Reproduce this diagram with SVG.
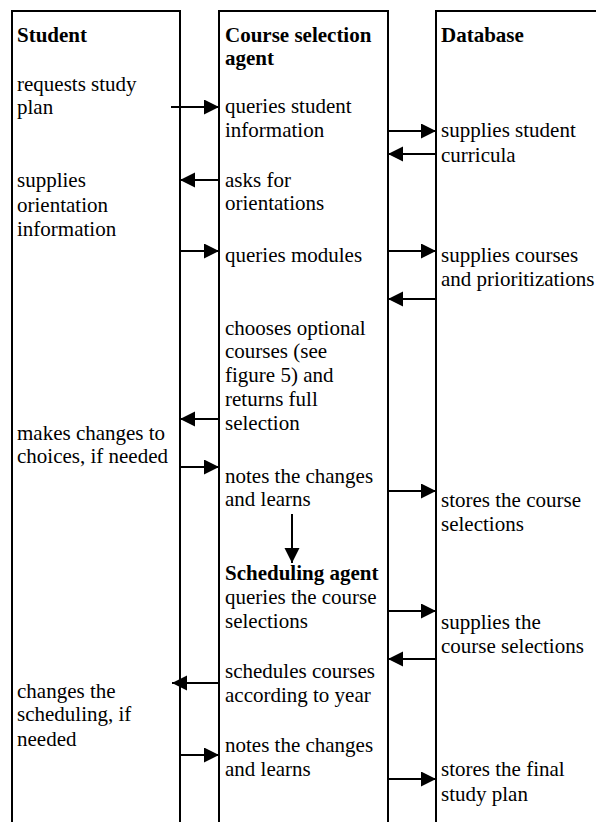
<svg xmlns="http://www.w3.org/2000/svg" width="596" height="822" viewBox="0 0 596 822" font-family="'Liberation Serif', 'Times New Roman', Times, 'DejaVu Serif', serif" font-size="21">
<style>
.lane{fill:#fff;stroke:#000;stroke-width:2}
text{font-family:"Liberation Serif","Times New Roman",Times,serif;font-size:21px;fill:#000}
.h{font-weight:bold}
.c{stroke:#000;stroke-width:2;fill:none;marker-end:url(#ah)}
</style>
<defs>
<marker id="ah" markerUnits="userSpaceOnUse" markerWidth="16" markerHeight="16" refX="15" refY="7.5" orient="auto">
<path d="M0,0 L15,7.5 L0,15 Z" fill="#000"/>
</marker>
</defs>
<rect width="596" height="822" fill="#fff"/>
<g id="student">
<rect class="lane" x="12" y="11" width="168" height="830"/>
<text class="h" x="17" y="42">Student</text>
<text x="17" y="91">requests study</text>
<text x="17" y="114">plan</text>
<text x="17" y="187">supplies</text>
<text x="17" y="212">orientation</text>
<text x="17" y="236">information</text>
<text x="17" y="440">makes changes to</text>
<text x="17" y="463">choices, if needed</text>
<text x="17" y="698">changes the</text>
<text x="17" y="721">scheduling, if</text>
<text x="17" y="746">needed</text>
</g>
<g id="agent">
<rect class="lane" x="219" y="11" width="169" height="830"/>
<text class="h" x="225" y="42">Course selection</text>
<text class="h" x="225" y="65">agent</text>
<text x="225" y="113">queries student</text>
<text x="225" y="137">information</text>
<text x="225" y="187">asks for</text>
<text x="225" y="210">orientations</text>
<text x="225" y="262">queries modules</text>
<text x="225" y="335">chooses optional</text>
<text x="225" y="358">courses (see</text>
<text x="225" y="382">figure 5) and</text>
<text x="225" y="406">returns full</text>
<text x="225" y="430">selection</text>
<text x="225" y="483">notes the changes</text>
<text x="225" y="506">and learns</text>
<text class="h" x="225" y="580">Scheduling agent</text>
<text x="225" y="604">queries the course</text>
<text x="225" y="628">selections</text>
<text x="225" y="678">schedules courses</text>
<text x="225" y="702">according to year</text>
<text x="225" y="752">notes the changes</text>
<text x="225" y="776">and learns</text>
</g>
<g id="database">
<rect class="lane" x="436" y="11" width="200" height="830"/>
<text class="h" x="441" y="42">Database</text>
<text x="441" y="137">supplies student</text>
<text x="441" y="162">curricula</text>
<text x="441" y="262">supplies courses</text>
<text x="441" y="286">and prioritizations</text>
<text x="441" y="507">stores the course</text>
<text x="441" y="531">selections</text>
<text x="441" y="629">supplies the</text>
<text x="441" y="653">course selections</text>
<text x="441" y="776">stores the final</text>
<text x="441" y="801">study plan</text>
</g>
<g id="connectors">
<line class="c" x1="171" y1="107" x2="219" y2="107"/>
<line class="c" x1="388" y1="131" x2="436" y2="131"/>
<line class="c" x1="436" y1="154" x2="388" y2="154"/>
<line class="c" x1="219" y1="180" x2="180" y2="180"/>
<line class="c" x1="180" y1="251" x2="219" y2="251"/>
<line class="c" x1="388" y1="251" x2="436" y2="251"/>
<line class="c" x1="436" y1="299" x2="388" y2="299"/>
<line class="c" x1="219" y1="419" x2="180" y2="419"/>
<line class="c" x1="180" y1="467" x2="219" y2="467"/>
<line class="c" x1="388" y1="491" x2="436" y2="491"/>
<line class="c" x1="292" y1="514" x2="292" y2="563"/>
<line class="c" x1="388" y1="611" x2="436" y2="611"/>
<line class="c" x1="436" y1="659" x2="388" y2="659"/>
<line class="c" x1="219" y1="683" x2="172" y2="683"/>
<line class="c" x1="180" y1="755" x2="219" y2="755"/>
<line class="c" x1="388" y1="779" x2="436" y2="779"/>
</g>
</svg>
